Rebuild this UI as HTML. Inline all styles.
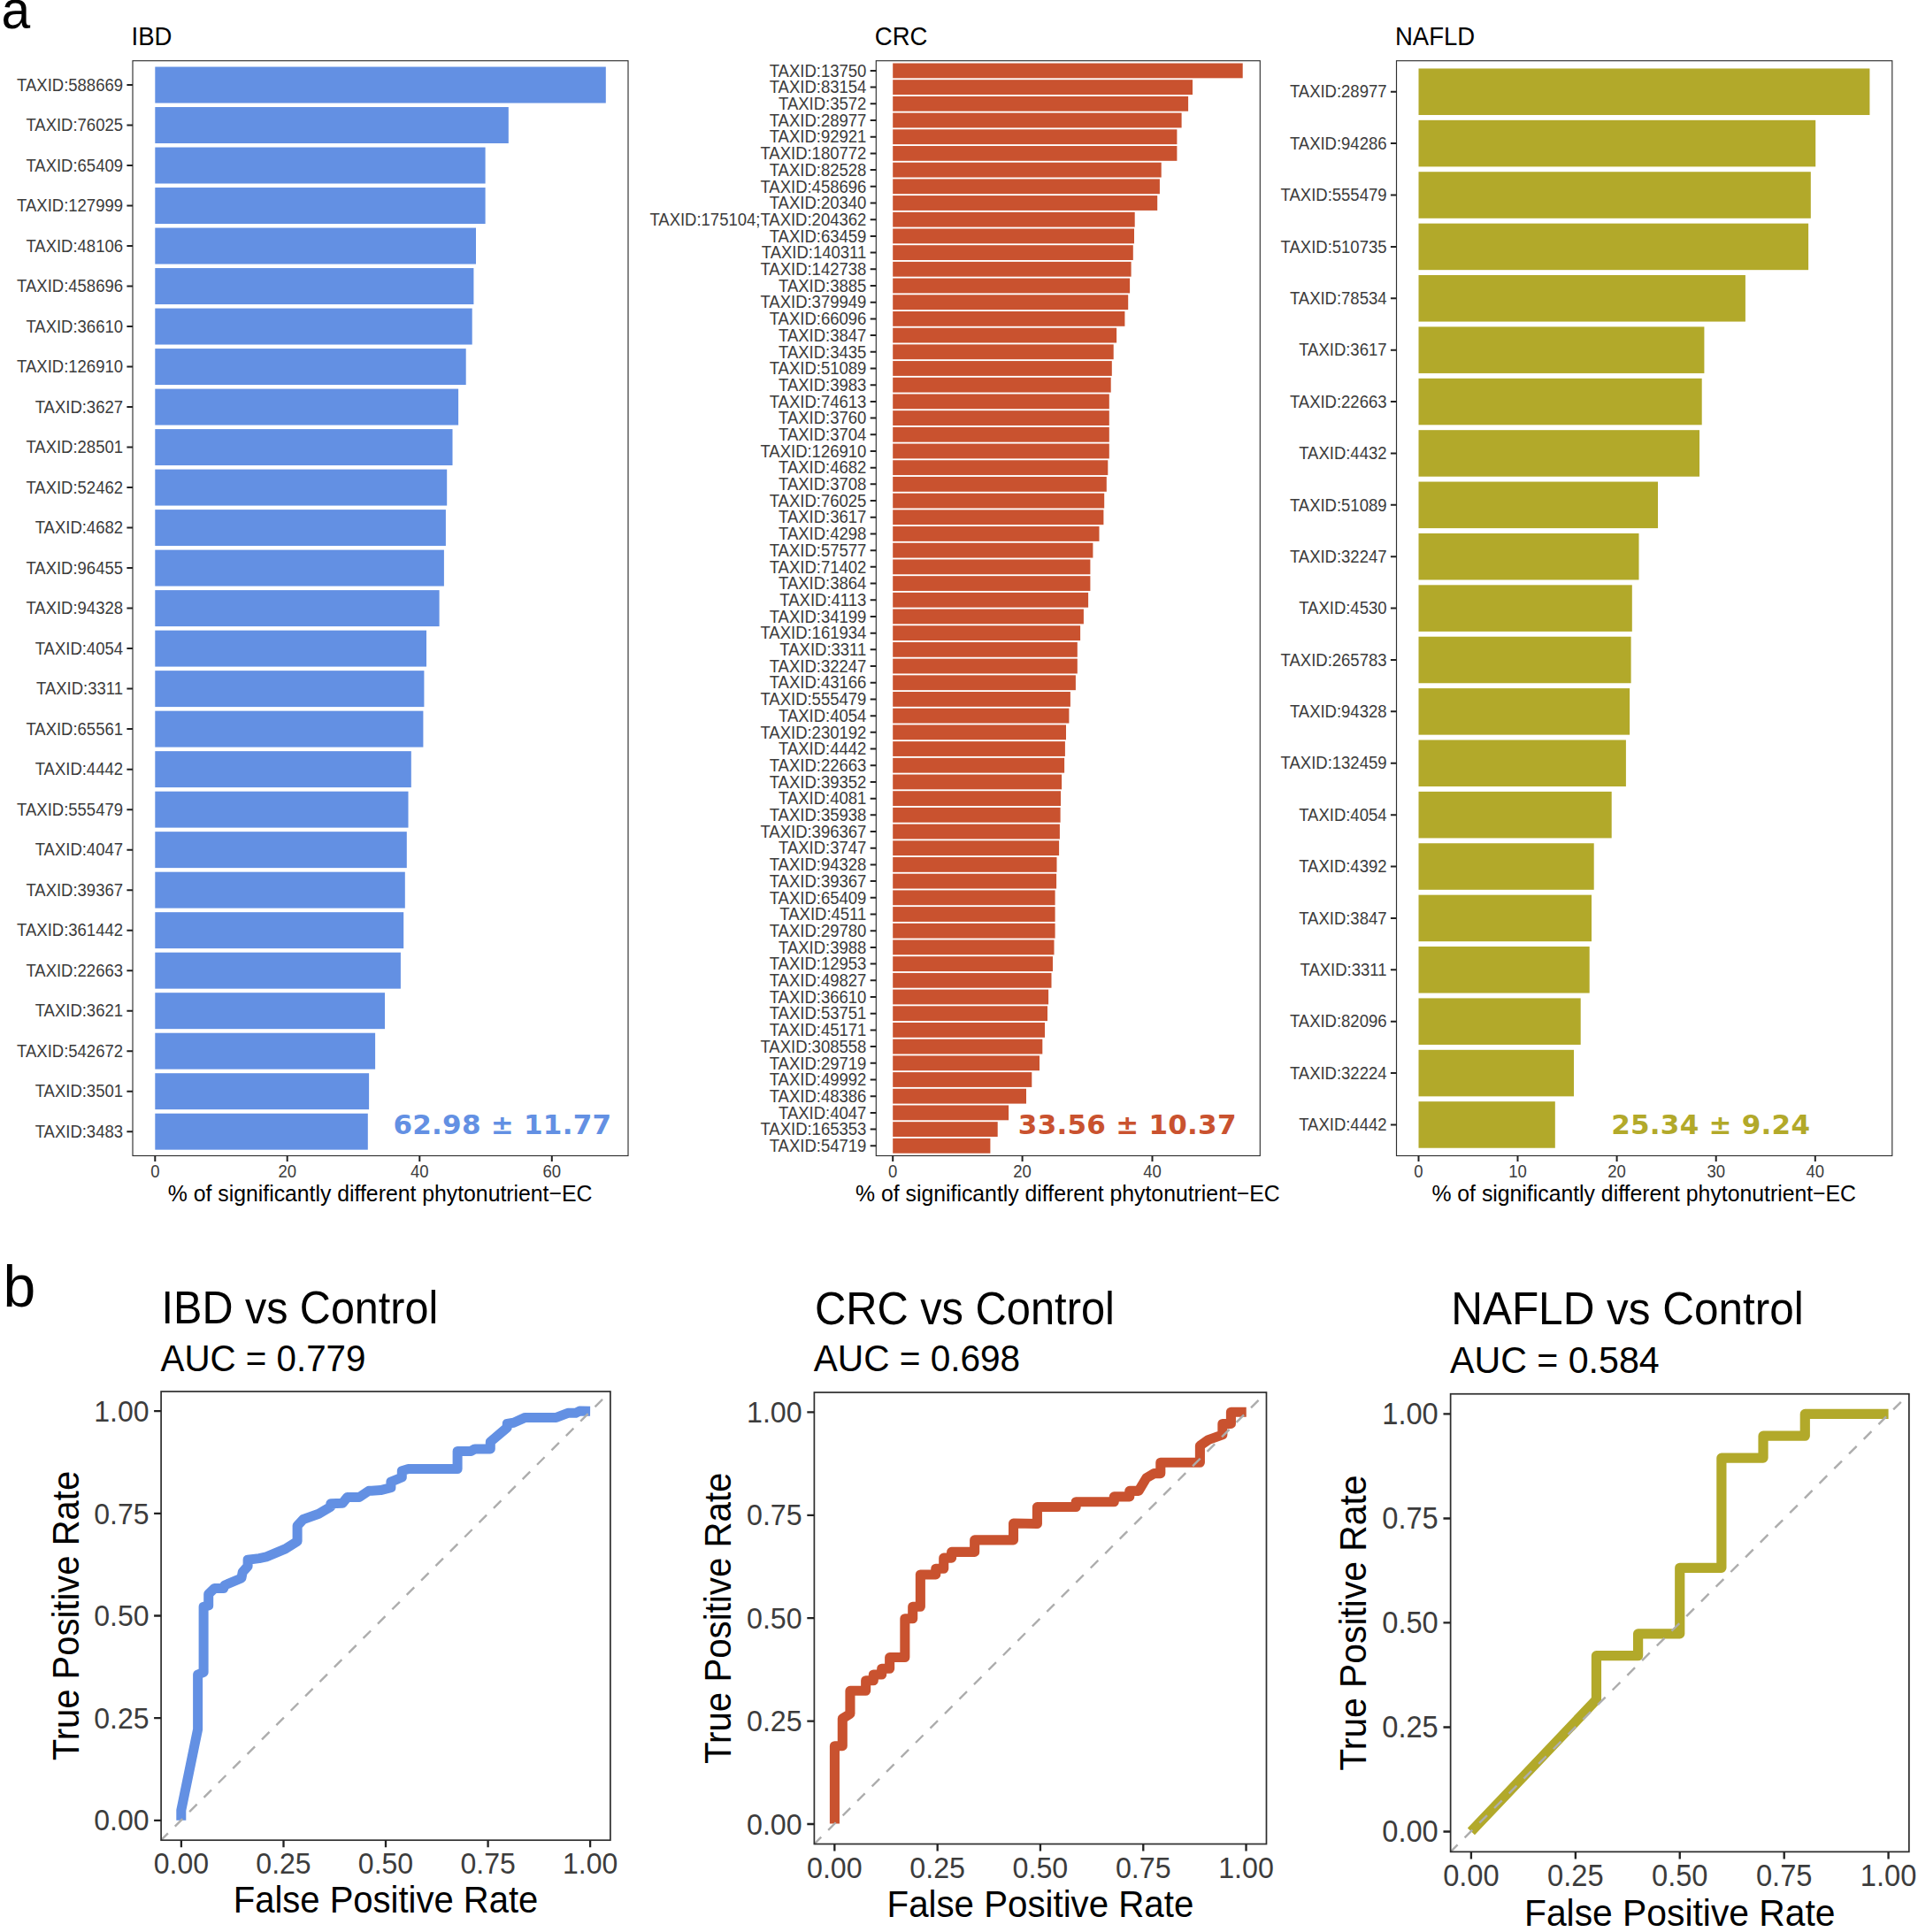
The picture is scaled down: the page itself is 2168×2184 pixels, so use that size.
<!DOCTYPE html>
<html lang="en"><head><meta charset="utf-8"><title>Figure</title>
<style>
html,body{margin:0;padding:0;background:#fff;}
body{width:2168px;height:2184px;overflow:hidden;}
svg{display:block;font-family:"Liberation Sans", Arial, Helvetica, sans-serif;}
</style></head><body>
<svg width="2168" height="2184" viewBox="0 0 2168 2184">
<rect width="2168" height="2184" fill="#fff"/>
<g>
<rect x="175.3" y="75.53" width="509.5" height="40.96" fill="#6390E3"/>
<rect x="175.3" y="121.03" width="399.5" height="40.96" fill="#6390E3"/>
<rect x="175.3" y="166.54" width="373.3" height="40.96" fill="#6390E3"/>
<rect x="175.3" y="212.05" width="373.3" height="40.96" fill="#6390E3"/>
<rect x="175.3" y="257.56" width="362.7" height="40.96" fill="#6390E3"/>
<rect x="175.3" y="303.06" width="360.1" height="40.96" fill="#6390E3"/>
<rect x="175.3" y="348.57" width="358.4" height="40.96" fill="#6390E3"/>
<rect x="175.3" y="394.08" width="351.4" height="40.96" fill="#6390E3"/>
<rect x="175.3" y="439.58" width="342.8" height="40.96" fill="#6390E3"/>
<rect x="175.3" y="485.09" width="336.2" height="40.96" fill="#6390E3"/>
<rect x="175.3" y="530.60" width="329.9" height="40.96" fill="#6390E3"/>
<rect x="175.3" y="576.11" width="328.6" height="40.96" fill="#6390E3"/>
<rect x="175.3" y="621.61" width="326.6" height="40.96" fill="#6390E3"/>
<rect x="175.3" y="667.12" width="321.3" height="40.96" fill="#6390E3"/>
<rect x="175.3" y="712.63" width="306.7" height="40.96" fill="#6390E3"/>
<rect x="175.3" y="758.14" width="304.1" height="40.96" fill="#6390E3"/>
<rect x="175.3" y="803.64" width="303.1" height="40.96" fill="#6390E3"/>
<rect x="175.3" y="849.15" width="289.5" height="40.96" fill="#6390E3"/>
<rect x="175.3" y="894.66" width="286.2" height="40.96" fill="#6390E3"/>
<rect x="175.3" y="940.17" width="284.5" height="40.96" fill="#6390E3"/>
<rect x="175.3" y="985.67" width="282.5" height="40.96" fill="#6390E3"/>
<rect x="175.3" y="1031.18" width="280.9" height="40.96" fill="#6390E3"/>
<rect x="175.3" y="1076.69" width="277.6" height="40.96" fill="#6390E3"/>
<rect x="175.3" y="1122.20" width="259.7" height="40.96" fill="#6390E3"/>
<rect x="175.3" y="1167.70" width="248.8" height="40.96" fill="#6390E3"/>
<rect x="175.3" y="1213.21" width="241.8" height="40.96" fill="#6390E3"/>
<rect x="175.3" y="1258.72" width="240.5" height="40.96" fill="#6390E3"/>
<rect x="150.0" y="68.7" width="560.0" height="1237.8" fill="none" stroke="#303030" stroke-width="1.15"/>
<path d="M143.4 96.00H150.0M143.4 141.51H150.0M143.4 187.02H150.0M143.4 232.53H150.0M143.4 278.03H150.0M143.4 323.54H150.0M143.4 369.05H150.0M143.4 414.56H150.0M143.4 460.06H150.0M143.4 505.57H150.0M143.4 551.08H150.0M143.4 596.59H150.0M143.4 642.09H150.0M143.4 687.60H150.0M143.4 733.11H150.0M143.4 778.61H150.0M143.4 824.12H150.0M143.4 869.63H150.0M143.4 915.14H150.0M143.4 960.64H150.0M143.4 1006.15H150.0M143.4 1051.66H150.0M143.4 1097.17H150.0M143.4 1142.67H150.0M143.4 1188.18H150.0M143.4 1233.69H150.0M143.4 1279.20H150.0M175.3 1306.5V1313.1M324.7 1306.5V1313.1M474.3 1306.5V1313.1M623.8 1306.5V1313.1" stroke="#222222" stroke-width="2" fill="none"/>
<g font-size="18.5" fill="#3C3C3C" text-anchor="end">
<text transform="translate(139.0 102.7) scale(1 1.05)">TAXID:588669</text>
<text transform="translate(139.0 148.2) scale(1 1.05)">TAXID:76025</text>
<text transform="translate(139.0 193.7) scale(1 1.05)">TAXID:65409</text>
<text transform="translate(139.0 239.2) scale(1 1.05)">TAXID:127999</text>
<text transform="translate(139.0 284.7) scale(1 1.05)">TAXID:48106</text>
<text transform="translate(139.0 330.2) scale(1 1.05)">TAXID:458696</text>
<text transform="translate(139.0 375.7) scale(1 1.05)">TAXID:36610</text>
<text transform="translate(139.0 421.2) scale(1 1.05)">TAXID:126910</text>
<text transform="translate(139.0 466.7) scale(1 1.05)">TAXID:3627</text>
<text transform="translate(139.0 512.3) scale(1 1.05)">TAXID:28501</text>
<text transform="translate(139.0 557.8) scale(1 1.05)">TAXID:52462</text>
<text transform="translate(139.0 603.3) scale(1 1.05)">TAXID:4682</text>
<text transform="translate(139.0 648.8) scale(1 1.05)">TAXID:96455</text>
<text transform="translate(139.0 694.3) scale(1 1.05)">TAXID:94328</text>
<text transform="translate(139.0 739.8) scale(1 1.05)">TAXID:4054</text>
<text transform="translate(139.0 785.3) scale(1 1.05)">TAXID:3311</text>
<text transform="translate(139.0 830.8) scale(1 1.05)">TAXID:65561</text>
<text transform="translate(139.0 876.3) scale(1 1.05)">TAXID:4442</text>
<text transform="translate(139.0 921.8) scale(1 1.05)">TAXID:555479</text>
<text transform="translate(139.0 967.3) scale(1 1.05)">TAXID:4047</text>
<text transform="translate(139.0 1012.8) scale(1 1.05)">TAXID:39367</text>
<text transform="translate(139.0 1058.3) scale(1 1.05)">TAXID:361442</text>
<text transform="translate(139.0 1103.8) scale(1 1.05)">TAXID:22663</text>
<text transform="translate(139.0 1149.4) scale(1 1.05)">TAXID:3621</text>
<text transform="translate(139.0 1194.9) scale(1 1.05)">TAXID:542672</text>
<text transform="translate(139.0 1240.4) scale(1 1.05)">TAXID:3501</text>
<text transform="translate(139.0 1285.9) scale(1 1.05)">TAXID:3483</text>
</g>
<g font-size="18.5" fill="#3C3C3C" text-anchor="middle">
<text transform="translate(175.3 1331.3) scale(1 1.05)">0</text>
<text transform="translate(324.7 1331.3) scale(1 1.05)">20</text>
<text transform="translate(474.3 1331.3) scale(1 1.05)">40</text>
<text transform="translate(623.8 1331.3) scale(1 1.05)">60</text>
</g>
<text transform="translate(429.6 1357.8) scale(1 1.05)" font-size="24.8" text-anchor="middle" fill="#000">% of significantly different phytonutrient−EC</text>
<text transform="translate(148.5 50.7) scale(1 1.05)" font-size="27.5" fill="#000">IBD</text>
<text x="567.9" y="1282" font-family='"DejaVu Sans", Verdana, sans-serif' font-weight="bold" font-size="31" letter-spacing="0.25" text-anchor="middle" fill="#6390E3">62.98 ± 11.77</text>
</g>
<g>
<rect x="1009.2" y="71.50" width="395.5" height="16.83" fill="#C9522F"/>
<rect x="1009.2" y="90.20" width="338.8" height="16.83" fill="#C9522F"/>
<rect x="1009.2" y="108.90" width="333.9" height="16.83" fill="#C9522F"/>
<rect x="1009.2" y="127.60" width="326.4" height="16.83" fill="#C9522F"/>
<rect x="1009.2" y="146.30" width="321.2" height="16.83" fill="#C9522F"/>
<rect x="1009.2" y="164.99" width="321.2" height="16.83" fill="#C9522F"/>
<rect x="1009.2" y="183.69" width="303.5" height="16.83" fill="#C9522F"/>
<rect x="1009.2" y="202.39" width="301.7" height="16.83" fill="#C9522F"/>
<rect x="1009.2" y="221.09" width="299.0" height="16.83" fill="#C9522F"/>
<rect x="1009.2" y="239.79" width="273.5" height="16.83" fill="#C9522F"/>
<rect x="1009.2" y="258.48" width="272.8" height="16.83" fill="#C9522F"/>
<rect x="1009.2" y="277.18" width="271.6" height="16.83" fill="#C9522F"/>
<rect x="1009.2" y="295.88" width="269.4" height="16.83" fill="#C9522F"/>
<rect x="1009.2" y="314.58" width="267.9" height="16.83" fill="#C9522F"/>
<rect x="1009.2" y="333.28" width="266.0" height="16.83" fill="#C9522F"/>
<rect x="1009.2" y="351.97" width="262.2" height="16.83" fill="#C9522F"/>
<rect x="1009.2" y="370.67" width="252.9" height="16.83" fill="#C9522F"/>
<rect x="1009.2" y="389.37" width="249.5" height="16.83" fill="#C9522F"/>
<rect x="1009.2" y="408.07" width="247.6" height="16.83" fill="#C9522F"/>
<rect x="1009.2" y="426.76" width="246.5" height="16.83" fill="#C9522F"/>
<rect x="1009.2" y="445.46" width="244.6" height="16.83" fill="#C9522F"/>
<rect x="1009.2" y="464.16" width="244.6" height="16.83" fill="#C9522F"/>
<rect x="1009.2" y="482.86" width="244.6" height="16.83" fill="#C9522F"/>
<rect x="1009.2" y="501.56" width="244.6" height="16.83" fill="#C9522F"/>
<rect x="1009.2" y="520.25" width="243.1" height="16.83" fill="#C9522F"/>
<rect x="1009.2" y="538.95" width="241.6" height="16.83" fill="#C9522F"/>
<rect x="1009.2" y="557.65" width="239.0" height="16.83" fill="#C9522F"/>
<rect x="1009.2" y="576.35" width="238.2" height="16.83" fill="#C9522F"/>
<rect x="1009.2" y="595.05" width="233.3" height="16.83" fill="#C9522F"/>
<rect x="1009.2" y="613.74" width="226.2" height="16.83" fill="#C9522F"/>
<rect x="1009.2" y="632.44" width="223.2" height="16.83" fill="#C9522F"/>
<rect x="1009.2" y="651.14" width="223.2" height="16.83" fill="#C9522F"/>
<rect x="1009.2" y="669.84" width="220.9" height="16.83" fill="#C9522F"/>
<rect x="1009.2" y="688.53" width="215.7" height="16.83" fill="#C9522F"/>
<rect x="1009.2" y="707.23" width="211.9" height="16.83" fill="#C9522F"/>
<rect x="1009.2" y="725.93" width="208.6" height="16.83" fill="#C9522F"/>
<rect x="1009.2" y="744.63" width="208.6" height="16.83" fill="#C9522F"/>
<rect x="1009.2" y="763.33" width="206.7" height="16.83" fill="#C9522F"/>
<rect x="1009.2" y="782.02" width="200.7" height="16.83" fill="#C9522F"/>
<rect x="1009.2" y="800.72" width="199.2" height="16.83" fill="#C9522F"/>
<rect x="1009.2" y="819.42" width="195.8" height="16.83" fill="#C9522F"/>
<rect x="1009.2" y="838.12" width="194.7" height="16.83" fill="#C9522F"/>
<rect x="1009.2" y="856.82" width="193.9" height="16.83" fill="#C9522F"/>
<rect x="1009.2" y="875.51" width="190.9" height="16.83" fill="#C9522F"/>
<rect x="1009.2" y="894.21" width="189.8" height="16.83" fill="#C9522F"/>
<rect x="1009.2" y="912.91" width="189.4" height="16.83" fill="#C9522F"/>
<rect x="1009.2" y="931.61" width="188.7" height="16.83" fill="#C9522F"/>
<rect x="1009.2" y="950.31" width="187.9" height="16.83" fill="#C9522F"/>
<rect x="1009.2" y="969.00" width="185.3" height="16.83" fill="#C9522F"/>
<rect x="1009.2" y="987.70" width="184.9" height="16.83" fill="#C9522F"/>
<rect x="1009.2" y="1006.40" width="183.4" height="16.83" fill="#C9522F"/>
<rect x="1009.2" y="1025.10" width="183.4" height="16.83" fill="#C9522F"/>
<rect x="1009.2" y="1043.79" width="183.4" height="16.83" fill="#C9522F"/>
<rect x="1009.2" y="1062.49" width="182.3" height="16.83" fill="#C9522F"/>
<rect x="1009.2" y="1081.19" width="180.8" height="16.83" fill="#C9522F"/>
<rect x="1009.2" y="1099.89" width="179.3" height="16.83" fill="#C9522F"/>
<rect x="1009.2" y="1118.59" width="175.9" height="16.83" fill="#C9522F"/>
<rect x="1009.2" y="1137.28" width="174.8" height="16.83" fill="#C9522F"/>
<rect x="1009.2" y="1155.98" width="171.8" height="16.83" fill="#C9522F"/>
<rect x="1009.2" y="1174.68" width="169.1" height="16.83" fill="#C9522F"/>
<rect x="1009.2" y="1193.38" width="165.8" height="16.83" fill="#C9522F"/>
<rect x="1009.2" y="1212.08" width="157.1" height="16.83" fill="#C9522F"/>
<rect x="1009.2" y="1230.77" width="150.8" height="16.83" fill="#C9522F"/>
<rect x="1009.2" y="1249.47" width="130.9" height="16.83" fill="#C9522F"/>
<rect x="1009.2" y="1268.17" width="118.5" height="16.83" fill="#C9522F"/>
<rect x="1009.2" y="1286.87" width="110.2" height="16.83" fill="#C9522F"/>
<rect x="990.3" y="68.7" width="434.0" height="1237.8" fill="none" stroke="#303030" stroke-width="1.15"/>
<path d="M983.7 79.92H990.3M983.7 98.62H990.3M983.7 117.31H990.3M983.7 136.01H990.3M983.7 154.71H990.3M983.7 173.41H990.3M983.7 192.11H990.3M983.7 210.80H990.3M983.7 229.50H990.3M983.7 248.20H990.3M983.7 266.90H990.3M983.7 285.60H990.3M983.7 304.29H990.3M983.7 322.99H990.3M983.7 341.69H990.3M983.7 360.39H990.3M983.7 379.08H990.3M983.7 397.78H990.3M983.7 416.48H990.3M983.7 435.18H990.3M983.7 453.88H990.3M983.7 472.57H990.3M983.7 491.27H990.3M983.7 509.97H990.3M983.7 528.67H990.3M983.7 547.37H990.3M983.7 566.06H990.3M983.7 584.76H990.3M983.7 603.46H990.3M983.7 622.16H990.3M983.7 640.86H990.3M983.7 659.55H990.3M983.7 678.25H990.3M983.7 696.95H990.3M983.7 715.65H990.3M983.7 734.34H990.3M983.7 753.04H990.3M983.7 771.74H990.3M983.7 790.44H990.3M983.7 809.14H990.3M983.7 827.83H990.3M983.7 846.53H990.3M983.7 865.23H990.3M983.7 883.93H990.3M983.7 902.63H990.3M983.7 921.32H990.3M983.7 940.02H990.3M983.7 958.72H990.3M983.7 977.42H990.3M983.7 996.12H990.3M983.7 1014.81H990.3M983.7 1033.51H990.3M983.7 1052.21H990.3M983.7 1070.91H990.3M983.7 1089.60H990.3M983.7 1108.30H990.3M983.7 1127.00H990.3M983.7 1145.70H990.3M983.7 1164.40H990.3M983.7 1183.09H990.3M983.7 1201.79H990.3M983.7 1220.49H990.3M983.7 1239.19H990.3M983.7 1257.89H990.3M983.7 1276.58H990.3M983.7 1295.28H990.3M1009.2 1306.5V1313.1M1155.6 1306.5V1313.1M1302.5 1306.5V1313.1" stroke="#222222" stroke-width="2" fill="none"/>
<g font-size="18.5" fill="#3C3C3C" text-anchor="end">
<text transform="translate(979.3 86.6) scale(1 1.05)">TAXID:13750</text>
<text transform="translate(979.3 105.3) scale(1 1.05)">TAXID:83154</text>
<text transform="translate(979.3 124.0) scale(1 1.05)">TAXID:3572</text>
<text transform="translate(979.3 142.7) scale(1 1.05)">TAXID:28977</text>
<text transform="translate(979.3 161.4) scale(1 1.05)">TAXID:92921</text>
<text transform="translate(979.3 180.1) scale(1 1.05)">TAXID:180772</text>
<text transform="translate(979.3 198.8) scale(1 1.05)">TAXID:82528</text>
<text transform="translate(979.3 217.5) scale(1 1.05)">TAXID:458696</text>
<text transform="translate(979.3 236.2) scale(1 1.05)">TAXID:20340</text>
<text transform="translate(979.3 254.9) scale(1 1.05)">TAXID:175104;TAXID:204362</text>
<text transform="translate(979.3 273.6) scale(1 1.05)">TAXID:63459</text>
<text transform="translate(979.3 292.3) scale(1 1.05)">TAXID:140311</text>
<text transform="translate(979.3 311.0) scale(1 1.05)">TAXID:142738</text>
<text transform="translate(979.3 329.7) scale(1 1.05)">TAXID:3885</text>
<text transform="translate(979.3 348.4) scale(1 1.05)">TAXID:379949</text>
<text transform="translate(979.3 367.1) scale(1 1.05)">TAXID:66096</text>
<text transform="translate(979.3 385.8) scale(1 1.05)">TAXID:3847</text>
<text transform="translate(979.3 404.5) scale(1 1.05)">TAXID:3435</text>
<text transform="translate(979.3 423.2) scale(1 1.05)">TAXID:51089</text>
<text transform="translate(979.3 441.9) scale(1 1.05)">TAXID:3983</text>
<text transform="translate(979.3 460.6) scale(1 1.05)">TAXID:74613</text>
<text transform="translate(979.3 479.3) scale(1 1.05)">TAXID:3760</text>
<text transform="translate(979.3 498.0) scale(1 1.05)">TAXID:3704</text>
<text transform="translate(979.3 516.7) scale(1 1.05)">TAXID:126910</text>
<text transform="translate(979.3 535.4) scale(1 1.05)">TAXID:4682</text>
<text transform="translate(979.3 554.0) scale(1 1.05)">TAXID:3708</text>
<text transform="translate(979.3 572.7) scale(1 1.05)">TAXID:76025</text>
<text transform="translate(979.3 591.4) scale(1 1.05)">TAXID:3617</text>
<text transform="translate(979.3 610.1) scale(1 1.05)">TAXID:4298</text>
<text transform="translate(979.3 628.8) scale(1 1.05)">TAXID:57577</text>
<text transform="translate(979.3 647.5) scale(1 1.05)">TAXID:71402</text>
<text transform="translate(979.3 666.2) scale(1 1.05)">TAXID:3864</text>
<text transform="translate(979.3 684.9) scale(1 1.05)">TAXID:4113</text>
<text transform="translate(979.3 703.6) scale(1 1.05)">TAXID:34199</text>
<text transform="translate(979.3 722.3) scale(1 1.05)">TAXID:161934</text>
<text transform="translate(979.3 741.0) scale(1 1.05)">TAXID:3311</text>
<text transform="translate(979.3 759.7) scale(1 1.05)">TAXID:32247</text>
<text transform="translate(979.3 778.4) scale(1 1.05)">TAXID:43166</text>
<text transform="translate(979.3 797.1) scale(1 1.05)">TAXID:555479</text>
<text transform="translate(979.3 815.8) scale(1 1.05)">TAXID:4054</text>
<text transform="translate(979.3 834.5) scale(1 1.05)">TAXID:230192</text>
<text transform="translate(979.3 853.2) scale(1 1.05)">TAXID:4442</text>
<text transform="translate(979.3 871.9) scale(1 1.05)">TAXID:22663</text>
<text transform="translate(979.3 890.6) scale(1 1.05)">TAXID:39352</text>
<text transform="translate(979.3 909.3) scale(1 1.05)">TAXID:4081</text>
<text transform="translate(979.3 928.0) scale(1 1.05)">TAXID:35938</text>
<text transform="translate(979.3 946.7) scale(1 1.05)">TAXID:396367</text>
<text transform="translate(979.3 965.4) scale(1 1.05)">TAXID:3747</text>
<text transform="translate(979.3 984.1) scale(1 1.05)">TAXID:94328</text>
<text transform="translate(979.3 1002.8) scale(1 1.05)">TAXID:39367</text>
<text transform="translate(979.3 1021.5) scale(1 1.05)">TAXID:65409</text>
<text transform="translate(979.3 1040.2) scale(1 1.05)">TAXID:4511</text>
<text transform="translate(979.3 1058.9) scale(1 1.05)">TAXID:29780</text>
<text transform="translate(979.3 1077.6) scale(1 1.05)">TAXID:3988</text>
<text transform="translate(979.3 1096.3) scale(1 1.05)">TAXID:12953</text>
<text transform="translate(979.3 1115.0) scale(1 1.05)">TAXID:49827</text>
<text transform="translate(979.3 1133.7) scale(1 1.05)">TAXID:36610</text>
<text transform="translate(979.3 1152.4) scale(1 1.05)">TAXID:53751</text>
<text transform="translate(979.3 1171.1) scale(1 1.05)">TAXID:45171</text>
<text transform="translate(979.3 1189.8) scale(1 1.05)">TAXID:308558</text>
<text transform="translate(979.3 1208.5) scale(1 1.05)">TAXID:29719</text>
<text transform="translate(979.3 1227.2) scale(1 1.05)">TAXID:49992</text>
<text transform="translate(979.3 1245.9) scale(1 1.05)">TAXID:48386</text>
<text transform="translate(979.3 1264.6) scale(1 1.05)">TAXID:4047</text>
<text transform="translate(979.3 1283.3) scale(1 1.05)">TAXID:165353</text>
<text transform="translate(979.3 1302.0) scale(1 1.05)">TAXID:54719</text>
</g>
<g font-size="18.5" fill="#3C3C3C" text-anchor="middle">
<text transform="translate(1009.2 1331.3) scale(1 1.05)">0</text>
<text transform="translate(1155.6 1331.3) scale(1 1.05)">20</text>
<text transform="translate(1302.5 1331.3) scale(1 1.05)">40</text>
</g>
<text transform="translate(1206.9 1357.8) scale(1 1.05)" font-size="24.8" text-anchor="middle" fill="#000">% of significantly different phytonutrient−EC</text>
<text transform="translate(988.8 50.7) scale(1 1.05)" font-size="27.5" fill="#000">CRC</text>
<text x="1274.3" y="1282" font-family='"DejaVu Sans", Verdana, sans-serif' font-weight="bold" font-size="31" letter-spacing="0.25" text-anchor="middle" fill="#C9522F">33.56 ± 10.37</text>
</g>
<g>
<rect x="1603.5" y="77.46" width="509.9" height="52.55" fill="#B2A92A"/>
<rect x="1603.5" y="135.84" width="448.7" height="52.55" fill="#B2A92A"/>
<rect x="1603.5" y="194.23" width="443.3" height="52.55" fill="#B2A92A"/>
<rect x="1603.5" y="252.62" width="440.6" height="52.55" fill="#B2A92A"/>
<rect x="1603.5" y="311.01" width="369.4" height="52.55" fill="#B2A92A"/>
<rect x="1603.5" y="369.39" width="322.9" height="52.55" fill="#B2A92A"/>
<rect x="1603.5" y="427.78" width="320.2" height="52.55" fill="#B2A92A"/>
<rect x="1603.5" y="486.17" width="317.5" height="52.55" fill="#B2A92A"/>
<rect x="1603.5" y="544.55" width="270.5" height="52.55" fill="#B2A92A"/>
<rect x="1603.5" y="602.94" width="249.0" height="52.55" fill="#B2A92A"/>
<rect x="1603.5" y="661.33" width="241.3" height="52.55" fill="#B2A92A"/>
<rect x="1603.5" y="719.71" width="240.1" height="52.55" fill="#B2A92A"/>
<rect x="1603.5" y="778.10" width="238.6" height="52.55" fill="#B2A92A"/>
<rect x="1603.5" y="836.49" width="234.4" height="52.55" fill="#B2A92A"/>
<rect x="1603.5" y="894.87" width="218.2" height="52.55" fill="#B2A92A"/>
<rect x="1603.5" y="953.26" width="198.2" height="52.55" fill="#B2A92A"/>
<rect x="1603.5" y="1011.65" width="195.5" height="52.55" fill="#B2A92A"/>
<rect x="1603.5" y="1070.03" width="193.2" height="52.55" fill="#B2A92A"/>
<rect x="1603.5" y="1128.42" width="183.2" height="52.55" fill="#B2A92A"/>
<rect x="1603.5" y="1186.81" width="175.5" height="52.55" fill="#B2A92A"/>
<rect x="1603.5" y="1245.19" width="154.3" height="52.55" fill="#B2A92A"/>
<rect x="1578.5" y="68.7" width="560.3" height="1237.8" fill="none" stroke="#303030" stroke-width="1.15"/>
<path d="M1571.9 103.73H1578.5M1571.9 162.12H1578.5M1571.9 220.51H1578.5M1571.9 278.89H1578.5M1571.9 337.28H1578.5M1571.9 395.67H1578.5M1571.9 454.05H1578.5M1571.9 512.44H1578.5M1571.9 570.83H1578.5M1571.9 629.21H1578.5M1571.9 687.60H1578.5M1571.9 745.99H1578.5M1571.9 804.37H1578.5M1571.9 862.76H1578.5M1571.9 921.15H1578.5M1571.9 979.53H1578.5M1571.9 1037.92H1578.5M1571.9 1096.31H1578.5M1571.9 1154.69H1578.5M1571.9 1213.08H1578.5M1571.9 1271.47H1578.5M1603.5 1306.5V1313.1M1715.5 1306.5V1313.1M1827.6 1306.5V1313.1M1939.7 1306.5V1313.1M2051.8 1306.5V1313.1" stroke="#222222" stroke-width="2" fill="none"/>
<g font-size="18.5" fill="#3C3C3C" text-anchor="end">
<text transform="translate(1567.5 110.4) scale(1 1.05)">TAXID:28977</text>
<text transform="translate(1567.5 168.8) scale(1 1.05)">TAXID:94286</text>
<text transform="translate(1567.5 227.2) scale(1 1.05)">TAXID:555479</text>
<text transform="translate(1567.5 285.6) scale(1 1.05)">TAXID:510735</text>
<text transform="translate(1567.5 344.0) scale(1 1.05)">TAXID:78534</text>
<text transform="translate(1567.5 402.3) scale(1 1.05)">TAXID:3617</text>
<text transform="translate(1567.5 460.7) scale(1 1.05)">TAXID:22663</text>
<text transform="translate(1567.5 519.1) scale(1 1.05)">TAXID:4432</text>
<text transform="translate(1567.5 577.5) scale(1 1.05)">TAXID:51089</text>
<text transform="translate(1567.5 635.9) scale(1 1.05)">TAXID:32247</text>
<text transform="translate(1567.5 694.3) scale(1 1.05)">TAXID:4530</text>
<text transform="translate(1567.5 752.7) scale(1 1.05)">TAXID:265783</text>
<text transform="translate(1567.5 811.1) scale(1 1.05)">TAXID:94328</text>
<text transform="translate(1567.5 869.4) scale(1 1.05)">TAXID:132459</text>
<text transform="translate(1567.5 927.8) scale(1 1.05)">TAXID:4054</text>
<text transform="translate(1567.5 986.2) scale(1 1.05)">TAXID:4392</text>
<text transform="translate(1567.5 1044.6) scale(1 1.05)">TAXID:3847</text>
<text transform="translate(1567.5 1103.0) scale(1 1.05)">TAXID:3311</text>
<text transform="translate(1567.5 1161.4) scale(1 1.05)">TAXID:82096</text>
<text transform="translate(1567.5 1219.8) scale(1 1.05)">TAXID:32224</text>
<text transform="translate(1567.5 1278.2) scale(1 1.05)">TAXID:4442</text>
</g>
<g font-size="18.5" fill="#3C3C3C" text-anchor="middle">
<text transform="translate(1603.5 1331.3) scale(1 1.05)">0</text>
<text transform="translate(1715.5 1331.3) scale(1 1.05)">10</text>
<text transform="translate(1827.6 1331.3) scale(1 1.05)">20</text>
<text transform="translate(1939.7 1331.3) scale(1 1.05)">30</text>
<text transform="translate(2051.8 1331.3) scale(1 1.05)">40</text>
</g>
<text transform="translate(1858.2 1357.8) scale(1 1.05)" font-size="24.8" text-anchor="middle" fill="#000">% of significantly different phytonutrient−EC</text>
<text transform="translate(1577.0 50.7) scale(1 1.05)" font-size="27.5" fill="#000">NAFLD</text>
<text x="1933.7" y="1282" font-family='"DejaVu Sans", Verdana, sans-serif' font-weight="bold" font-size="31" letter-spacing="0.25" text-anchor="middle" fill="#B2A92A">25.34 ± 9.24</text>
</g>
<text transform="translate(1.45 32.45) scale(0.96 1)" font-size="61.2" fill="#000">a</text>
<text x="3.4" y="1476.8" font-size="66" fill="#000">b</text>
<g transform="translate(0 0) scale(1.0)">
<path d="M204.8 2057.7 L204.8 2046.4 L223.6 1954.9 L223.6 1893.0 L230.1 1890.3 L230.1 1816.3 L235.7 1814.9 L235.7 1802.0 L242.4 1795.5 L252.7 1795.5 L254.0 1792.0 L272.9 1784.0 L274.2 1777.2 L280.1 1770.5 L280.1 1763.2 L293.0 1761.6 L301.1 1759.8 L322.6 1750.9 L336.1 1742.3 L336.1 1724.8 L342.8 1717.5 L360.3 1711.3 L373.8 1703.2 L373.8 1699.7 L387.2 1699.2 L392.6 1692.5 L406.1 1692.5 L416.9 1685.2 L420.0 1685.3 L430.2 1684.6 L441.9 1681.7 L441.9 1675.1 L454.3 1670.0 L454.3 1662.7 L461.6 1660.5 L517.1 1660.5 L517.1 1640.4 L532.4 1640.4 L536.8 1637.9 L554.3 1637.9 L554.3 1629.9 L573.3 1613.8 L573.3 1609.4 L580.6 1608.2 L593.7 1602.4 L628.8 1602.4 L641.9 1597.3 L650.7 1597.3 L655.0 1595.1 L667.1 1595.2" fill="none" stroke="#6390E3" stroke-width="11" stroke-linejoin="round" stroke-linecap="butt"/>
<line x1="182.1" y1="2080.2" x2="689.9" y2="1573.0" stroke="#ADADAD" stroke-width="2.4" stroke-dasharray="12 11.14" stroke-dashoffset="1"/>
<rect x="182.1" y="1573.0" width="507.8" height="507.2" fill="none" stroke="#2E2E2E" stroke-width="1.7"/>
<path d="M204.9 2080.2v8M182.1 2057.8h-8M320.5 2080.2v8M182.1 1942.2h-8M436.0 2080.2v8M182.1 1826.5h-8M551.6 2080.2v8M182.1 1710.9h-8M667.1 2080.2v8M182.1 1595.2h-8" stroke="#222222" stroke-width="2.3" fill="none"/>
<g font-size="32" fill="#3C3C3C">
<text transform="translate(204.9 2118.2) scale(1 1.05)" text-anchor="middle">0.00</text>
<text transform="translate(168.5 2069.4) scale(1 1.05)" text-anchor="end">0.00</text>
<text transform="translate(320.5 2118.2) scale(1 1.05)" text-anchor="middle">0.25</text>
<text transform="translate(168.5 1953.8) scale(1 1.05)" text-anchor="end">0.25</text>
<text transform="translate(436.0 2118.2) scale(1 1.05)" text-anchor="middle">0.50</text>
<text transform="translate(168.5 1838.1) scale(1 1.05)" text-anchor="end">0.50</text>
<text transform="translate(551.6 2118.2) scale(1 1.05)" text-anchor="middle">0.75</text>
<text transform="translate(168.5 1722.5) scale(1 1.05)" text-anchor="end">0.75</text>
<text transform="translate(667.1 2118.2) scale(1 1.05)" text-anchor="middle">1.00</text>
<text transform="translate(168.5 1606.8) scale(1 1.05)" text-anchor="end">1.00</text>
</g>
<text transform="translate(436.0 2162.4) scale(1 1.05)" font-size="40" text-anchor="middle" fill="#000">False Positive Rate</text>
<text transform="translate(88.8 1826.6) rotate(-90) scale(1 1.05)" font-size="40" text-anchor="middle" fill="#000">True Positive Rate</text>
<text transform="translate(182.6 1496.0) scale(1 1.05)" font-size="48.5" fill="#000">IBD vs Control</text>
<text transform="translate(181.5 1549.5) scale(1 1.05)" font-size="40.32" fill="#000">AUC = 0.779</text>
</g>
<g transform="translate(737.1 -9.2) scale(1.0065)">
<path d="M205.0 2057.3 L205.0 1970.1 L213.8 1970.1 L213.8 1939.4 L222.4 1934.0 L222.4 1908.1 L240.0 1908.1 L240.0 1896.6 L248.6 1896.6 L248.6 1889.9 L257.9 1889.9 L257.9 1883.2 L266.8 1883.2 L266.8 1870.6 L283.9 1870.6 L283.9 1827.1 L292.7 1827.1 L292.7 1813.7 L301.3 1813.7 L301.3 1777.6 L318.6 1777.6 L318.6 1770.9 L327.5 1770.9 L327.5 1758.9 L336.3 1758.9 L336.3 1752.2 L362.2 1752.2 L362.2 1738.8 L405.8 1738.8 L405.8 1720.1 L432.5 1720.6 L432.5 1701.7 L476.0 1701.7 L476.0 1695.9 L518.8 1695.9 L518.8 1690.1 L536.2 1690.1 L536.2 1683.6 L546.4 1683.6 L555.1 1669.1 L563.8 1664.0 L571.0 1664.0 L571.0 1651.7 L615.3 1651.7 L615.3 1632.8 L624.7 1626.3 L640.6 1620.5 L640.6 1608.2 L650.1 1608.2 L650.1 1595.1 L667.3 1595.1" fill="none" stroke="#C9522F" stroke-width="11" stroke-linejoin="round" stroke-linecap="butt"/>
<line x1="182.1" y1="2080.2" x2="689.9" y2="1573.0" stroke="#ADADAD" stroke-width="2.4" stroke-dasharray="12 11.14" stroke-dashoffset="1"/>
<rect x="182.1" y="1573.0" width="507.8" height="507.2" fill="none" stroke="#2E2E2E" stroke-width="1.7"/>
<path d="M204.9 2080.2v8M182.1 2057.8h-8M320.5 2080.2v8M182.1 1942.2h-8M436.0 2080.2v8M182.1 1826.5h-8M551.6 2080.2v8M182.1 1710.9h-8M667.1 2080.2v8M182.1 1595.2h-8" stroke="#222222" stroke-width="2.3" fill="none"/>
<g font-size="32" fill="#3C3C3C">
<text transform="translate(204.9 2118.2) scale(1 1.05)" text-anchor="middle">0.00</text>
<text transform="translate(168.5 2069.4) scale(1 1.05)" text-anchor="end">0.00</text>
<text transform="translate(320.5 2118.2) scale(1 1.05)" text-anchor="middle">0.25</text>
<text transform="translate(168.5 1953.8) scale(1 1.05)" text-anchor="end">0.25</text>
<text transform="translate(436.0 2118.2) scale(1 1.05)" text-anchor="middle">0.50</text>
<text transform="translate(168.5 1838.1) scale(1 1.05)" text-anchor="end">0.50</text>
<text transform="translate(551.6 2118.2) scale(1 1.05)" text-anchor="middle">0.75</text>
<text transform="translate(168.5 1722.5) scale(1 1.05)" text-anchor="end">0.75</text>
<text transform="translate(667.1 2118.2) scale(1 1.05)" text-anchor="middle">1.00</text>
<text transform="translate(168.5 1606.8) scale(1 1.05)" text-anchor="end">1.00</text>
</g>
<text transform="translate(436.0 2162.4) scale(1 1.05)" font-size="40" text-anchor="middle" fill="#000">False Positive Rate</text>
<text transform="translate(88.8 1826.6) rotate(-90) scale(1 1.05)" font-size="40" text-anchor="middle" fill="#000">True Positive Rate</text>
<text transform="translate(182.6 1496.0) scale(1 1.05)" font-size="48.5" fill="#000">CRC vs Control</text>
<text transform="translate(181.5 1549.5) scale(1 1.05)" font-size="40.32" fill="#000">AUC = 0.698</text>
</g>
<g transform="translate(1453.8 -29.5) scale(1.0205)">
<path d="M204.9 2057.8 L343.6 1911.7 L343.6 1863.0 L389.8 1863.0 L389.8 1838.7 L436.0 1838.7 L436.0 1765.6 L482.2 1765.6 L482.2 1643.9 L528.4 1643.9 L528.4 1619.5 L574.7 1619.5 L574.7 1595.2 L667.1 1595.2" fill="none" stroke="#B2A92A" stroke-width="11" stroke-linejoin="round" stroke-linecap="butt"/>
<line x1="182.1" y1="2080.2" x2="689.9" y2="1573.0" stroke="#ADADAD" stroke-width="2.4" stroke-dasharray="12 11.14" stroke-dashoffset="1"/>
<rect x="182.1" y="1573.0" width="507.8" height="507.2" fill="none" stroke="#2E2E2E" stroke-width="1.7"/>
<path d="M204.9 2080.2v8M182.1 2057.8h-8M320.5 2080.2v8M182.1 1942.2h-8M436.0 2080.2v8M182.1 1826.5h-8M551.6 2080.2v8M182.1 1710.9h-8M667.1 2080.2v8M182.1 1595.2h-8" stroke="#222222" stroke-width="2.3" fill="none"/>
<g font-size="32" fill="#3C3C3C">
<text transform="translate(204.9 2118.2) scale(1 1.05)" text-anchor="middle">0.00</text>
<text transform="translate(168.5 2069.4) scale(1 1.05)" text-anchor="end">0.00</text>
<text transform="translate(320.5 2118.2) scale(1 1.05)" text-anchor="middle">0.25</text>
<text transform="translate(168.5 1953.8) scale(1 1.05)" text-anchor="end">0.25</text>
<text transform="translate(436.0 2118.2) scale(1 1.05)" text-anchor="middle">0.50</text>
<text transform="translate(168.5 1838.1) scale(1 1.05)" text-anchor="end">0.50</text>
<text transform="translate(551.6 2118.2) scale(1 1.05)" text-anchor="middle">0.75</text>
<text transform="translate(168.5 1722.5) scale(1 1.05)" text-anchor="end">0.75</text>
<text transform="translate(667.1 2118.2) scale(1 1.05)" text-anchor="middle">1.00</text>
<text transform="translate(168.5 1606.8) scale(1 1.05)" text-anchor="end">1.00</text>
</g>
<text transform="translate(436.0 2162.4) scale(1 1.05)" font-size="40" text-anchor="middle" fill="#000">False Positive Rate</text>
<text transform="translate(88.8 1826.6) rotate(-90) scale(1 1.05)" font-size="40" text-anchor="middle" fill="#000">True Positive Rate</text>
<text transform="translate(182.6 1496.0) scale(1 1.05)" font-size="48.5" fill="#000">NAFLD vs Control</text>
<text transform="translate(181.5 1549.5) scale(1 1.05)" font-size="40.32" fill="#000">AUC = 0.584</text>
</g>
</svg>
</body></html>
